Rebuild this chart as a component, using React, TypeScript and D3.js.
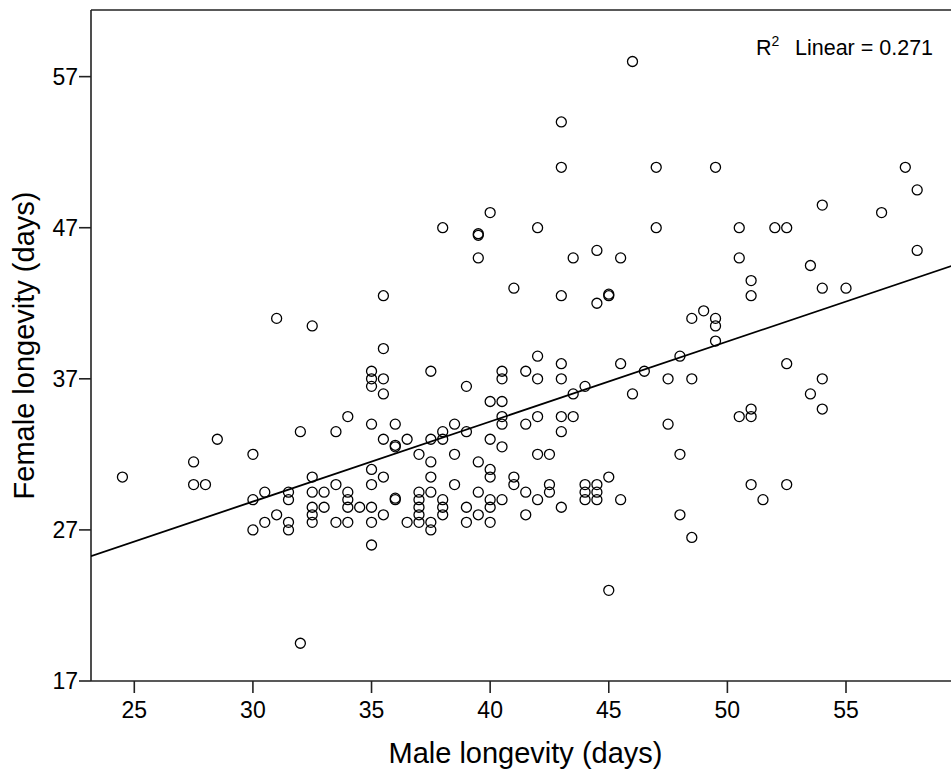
import React from 'react';
import * as d3 from 'd3';

const maleLongevity = [
  24.5,
  27.5, 27.5,
  28,
  28.5,
  30, 30, 30,
  30.5, 30.5,
  31, 31,
  31.5, 31.5, 31.5, 31.5,
  32, 32,
  32.5, 32.5, 32.5, 32.5, 32.5, 32.5,
  33, 33,
  33.5, 33.5, 33.5,
  34, 34, 34, 34, 34,
  34.5,
  35, 35, 35, 35, 35, 35, 35, 35, 35,
  35.5, 35.5, 35.5, 35.5, 35.5, 35.5, 35.5,
  36, 36, 36, 36, 36,
  36.5, 36.5,
  37, 37, 37, 37, 37, 37,
  37.5, 37.5, 37.5, 37.5, 37.5, 37.5, 37.5,
  38, 38, 38, 38, 38, 38,
  38.5, 38.5, 38.5,
  39, 39, 39, 39,
  39.5, 39.5, 39.5, 39.5, 39.5, 39.5,
  40, 40, 40, 40, 40, 40, 40, 40,
  40.5, 40.5, 40.5, 40.5, 40.5, 40.5, 40.5,
  41, 41, 41,
  41.5, 41.5, 41.5, 41.5,
  42, 42, 42, 42, 42, 42,
  42.5, 42.5, 42.5,
  43, 43, 43, 43, 43, 43, 43, 43,
  43.5, 43.5, 43.5,
  44, 44, 44, 44,
  44.5, 44.5, 44.5, 44.5, 44.5,
  45, 45, 45, 45,
  45.5, 45.5, 45.5,
  46, 46,
  46.5,
  47, 47,
  47.5, 47.5,
  48, 48, 48,
  48.5, 48.5, 48.5,
  49,
  49.5, 49.5, 49.5, 49.5,
  50.5, 50.5, 50.5,
  51, 51, 51, 51, 51,
  51.5,
  52,
  52.5, 52.5, 52.5,
  53.5, 53.5,
  54, 54, 54, 54,
  55,
  56.5,
  57.5,
  58, 58,
];

const femaleLongevity = [
  30.5,
  31.5, 30,
  30,
  33,
  32, 29, 27,
  29.5, 27.5,
  41, 28,
  29.5, 29, 27.5, 27,
  33.5, 19.5,
  40.5, 30.5, 29.5, 28.5, 28, 27.5,
  29.5, 28.5,
  33.5, 30, 27.5,
  34.5, 29.5, 29, 28.5, 27.5,
  28.5,
  37.5, 37, 36.5, 34, 31, 30, 28.5, 27.5, 26,
  42.5, 39, 37, 36, 33, 30.5, 28,
  34, 32.5, 32.6, 29, 29.1,
  33, 27.5,
  32, 29.5, 29, 28.5, 28, 27.5,
  37.5, 33, 31.5, 30.5, 29.5, 27.5, 27,
  47, 33.5, 33, 29, 28.5, 28,
  34, 32, 30,
  36.5, 33.5, 28.5, 27.5,
  46.5, 46.6, 45, 31.5, 29.5, 28,
  48, 35.5, 33, 31, 30.5, 29, 28.5, 27.5,
  37.5, 37, 35.5, 34.5, 34, 32.5, 29,
  43, 30.5, 30,
  37.5, 34, 29.5, 28,
  47, 38.5, 37, 34.5, 32, 29,
  32, 30, 29.5,
  54, 51, 42.5, 38, 37, 34.5, 33.5, 28.5,
  45, 36, 34.5,
  36.5, 30, 29.5, 29,
  45.5, 42, 30, 29.5, 29,
  42.5, 42.6, 30.5, 23,
  45, 38, 29,
  58, 36,
  37.5,
  51, 47,
  37, 34,
  38.5, 32, 28,
  41, 37, 26.5,
  41.5,
  51, 41, 40.5, 39.5,
  47, 45, 34.5,
  43.5, 42.5, 35, 34.5, 30,
  29,
  47,
  47, 38, 30,
  44.5, 36,
  48.5, 43, 37, 35,
  43,
  48,
  51,
  49.5, 45.5,
];

const xTicks = [25, 30, 35, 40, 45, 50, 55];
const yTicks = [17, 27, 37, 47, 57];
const xTitle = 'Male longevity (days)';
const yTitle = 'Female longevity (days)';
const fitLabel = 'Linear = 0.271';

export default function App() {
  const W = 951;
  const H = 774;
  const left = 91;
  const top = 10;
  const right = 960;
  const bottom = 681;

  const x = d3.scaleLinear().domain([23.175, 59.805]).range([left, right]);
  const y = d3.scaleLinear().domain([17, 61.41]).range([bottom, top]);

  const pts = maleLongevity.map((m, i) => [m, femaleLongevity[i]] as [number, number]);
  const mx = d3.mean(maleLongevity) as number;
  const my = d3.mean(femaleLongevity) as number;
  let sxy = 0;
  let sxx = 0;
  pts.forEach(([a, b]) => {
    sxy += (a - mx) * (b - my);
    sxx += (a - mx) * (a - mx);
  });
  const slope = sxy / sxx;
  const intercept = my - slope * mx;
  const [x0, x1] = x.domain();
  const line = d3.line<number>().x((d) => x(d)).y((d) => y(intercept + slope * d));

  const font = "'Liberation Sans', Arial, sans-serif";

  return (
    <svg
      width={W}
      height={H}
      style={{ position: 'absolute', left: 0, top: 0, background: '#fff' }}
      fontFamily={font}
    >
      <defs>
        <clipPath id="plotclip">
          <rect x={left} y={top} width={right - left} height={bottom - top} />
        </clipPath>
      </defs>
      <rect x={0} y={0} width={W} height={H} fill="#fff" />
      {/* frame */}
      <line x1={left} x2={right} y1={top} y2={top} stroke="#222" strokeWidth={1.6} />
      <line x1={left} x2={right} y1={bottom} y2={bottom} stroke="#222" strokeWidth={1.6} />
      <line x1={left} x2={left} y1={top} y2={bottom} stroke="#222" strokeWidth={1.6} />
      {/* y ticks */}
      {yTicks.map((t) => (
        <g key={'y' + t}>
          <line x1={left - 12} x2={left} y1={y(t)} y2={y(t)} stroke="#222" strokeWidth={1.6} />
          <text x={left - 13} y={y(t)} dy="0.36em" textAnchor="end" fontSize={23} fill="#000">
            {t}
          </text>
        </g>
      ))}
      {/* x ticks */}
      {xTicks.map((t) => (
        <g key={'x' + t}>
          <line x1={x(t)} x2={x(t)} y1={bottom} y2={bottom + 12} stroke="#222" strokeWidth={1.6} />
          <text x={x(t)} y={718} textAnchor="middle" fontSize={23} fill="#000">
            {t}
          </text>
        </g>
      ))}
      {/* titles */}
      <text x={(left + right) / 2} y={763} textAnchor="middle" fontSize={29} fill="#000">
        {xTitle}
      </text>
      <text
        transform={`translate(33.5, ${(top + bottom) / 2}) rotate(-90)`}
        textAnchor="middle"
        fontSize={29}
        fill="#000"
      >
        {yTitle}
      </text>
      <g clipPath="url(#plotclip)">
        <path d={line([x0, x1]) || ''} fill="none" stroke="#000" strokeWidth={1.8} />
        {pts.map(([a, b], i) => (
          <circle key={i} cx={x(a)} cy={y(b)} r={5} fill="none" stroke="#000" strokeWidth={1.3} />
        ))}
      </g>
      <text x={756} y={55} fontSize={21.5} fill="#000">
        R
        <tspan fontSize={14} dy={-9}>2</tspan>
        <tspan x={795} dy={9}>{fitLabel}</tspan>
      </text>
    </svg>
  );
}
